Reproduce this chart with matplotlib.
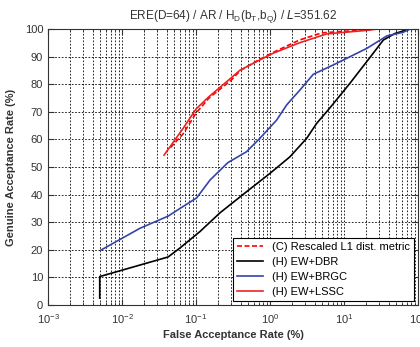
import matplotlib
matplotlib.use("Agg")
import matplotlib.pyplot as plt
from matplotlib.ticker import LogLocator, NullFormatter, FixedLocator

plt.rcParams['font.family'] = ['Liberation Sans Narrow', 'Liberation Sans', 'DejaVu Sans']

# data (FAR in %, GAR in %)
dbr_far = [0.005, 0.005, 0.042, 0.061, 0.113, 0.211, 0.48, 1.0, 1.86, 3.13, 4.27, 6.4, 12, 22, 34, 49, 78]
dbr_gar = [2.5, 10.3, 17.4, 20.7, 26.6, 33.4, 41, 47.7, 53.7, 60.4, 65.8, 71.3, 80.3, 89.4, 96, 98.4, 100]

brgc_far = [0.0052, 0.0175, 0.042, 0.061, 0.102, 0.155, 0.27, 0.48, 0.73, 1.23, 1.68, 2.54, 3.85, 7.2, 20.4, 38, 63, 78]
brgc_gar = [19.9, 27.8, 32.2, 35, 38.8, 45.3, 51.6, 55.5, 60.4, 67, 72.5, 77.9, 83.6, 87, 93, 97.5, 98.8, 100]

lssc_far = [0.037, 0.067, 0.1, 0.15, 0.29, 0.39, 0.66, 1.1, 2.5, 5.8, 20, 28, 100]
lssc_gar = [54.3, 64, 71, 75.5, 82, 85, 88.2, 91.2, 95, 98.2, 99.5, 100, 100]

l1_far = [0.045, 0.067, 0.1, 0.15, 0.3, 0.4, 0.66, 1.1, 2.5, 5, 20, 30, 100]
l1_gar = [57, 62, 69.5, 75, 81.5, 85, 88.4, 91.5, 96, 98.6, 99.7, 100, 100]

labels = ['(C) Rescaled L1 dist. metric', '(H) EW+DBR', '(H) EW+BRGC', '(H) EW+LSSC']
title = r'ERE(D=64) / AR / H$_\mathregular{D}$(b$_\mathregular{T}$,b$_\mathregular{Q}$) / $\mathit{L}$=351.62'

fig = plt.figure(figsize=(4.2, 3.47), dpi=100)
ax = fig.add_axes([48/420, 42/347, 370/420, 276/347])

ax.plot(l1_far, l1_gar, color='#ff0000', lw=1.2, ls=(0, (3, 1.5)), label=labels[0])
ax.plot(dbr_far, dbr_gar, color='black', lw=1.2, label=labels[1])
ax.plot(brgc_far, brgc_gar, color='#3344aa', lw=1.2, label=labels[2])
ax.plot(lssc_far, lssc_gar, color='#ee2222', lw=1.2, label=labels[3])

ax.set_xscale('log')
ax.set_xlim(1e-3, 1e2)
ax.set_ylim(0, 100)
ax.yaxis.set_major_locator(FixedLocator(range(0, 101, 10)))
ax.xaxis.set_major_locator(LogLocator(base=10, numticks=10))
ax.xaxis.set_minor_locator(LogLocator(base=10, subs=range(2, 10), numticks=20))
ax.xaxis.set_minor_formatter(NullFormatter())

ax.grid(True, which='both', axis='x', color='black', ls=(0, (2, 2)), lw=0.6)
ax.grid(True, which='major', axis='y', color='black', ls=(0, (2, 2)), lw=0.6)
ax.tick_params(which='both', direction='in', top=True, right=True, labelsize=8, colors='#333333')
ax.tick_params(which='major', length=4)
ax.tick_params(which='minor', length=2)
ax.tick_params(axis='x', pad=5)
for s in ax.spines.values():
    s.set_color('#333333')
    s.set_linewidth(0.8)

ax.set_title(title, fontsize=8.5, color='#333333', pad=7)
ax.set_xlabel('False Acceptance Rate (%)', fontsize=8, fontweight='bold', color='#333333', labelpad=3)
ax.set_ylabel('Genuine Acceptance Rate (%)', fontsize=8, fontweight='bold', color='#333333', labelpad=6)

leg = ax.legend(loc='lower right', fontsize=8, frameon=True, fancybox=False,
                edgecolor='black', framealpha=1, borderaxespad=0.4, handlelength=2.3,
                labelspacing=0.45, borderpad=0.35)
leg.get_frame().set_linewidth(0.8)

fig.savefig('out.png', dpi=100)
